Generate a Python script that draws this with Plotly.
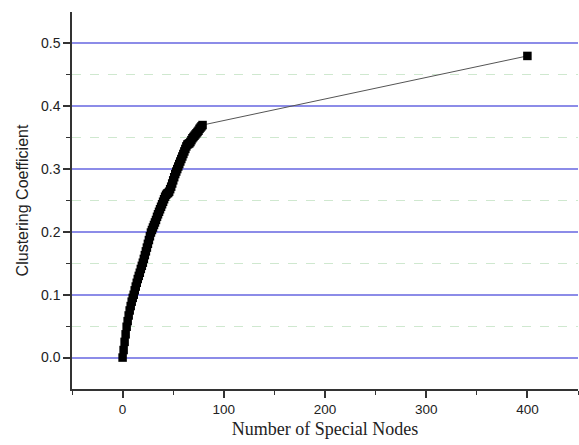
import plotly.graph_objects as go

# Number of special nodes (dense part) and clustering coefficient
nodes = list(range(0, 80)) + [400]
clustering = [
    0.000, 0.012, 0.025, 0.037, 0.049, 0.058, 0.067, 0.075, 0.082, 0.089,
    0.095, 0.100, 0.107, 0.113, 0.119, 0.125, 0.130, 0.135, 0.141, 0.146,
    0.151, 0.157, 0.163, 0.169, 0.175, 0.181, 0.187, 0.193, 0.199, 0.203,
    0.207, 0.211, 0.215, 0.219, 0.224, 0.228, 0.232, 0.236, 0.240, 0.244,
    0.248, 0.252, 0.256, 0.259, 0.261, 0.262, 0.264, 0.268, 0.272, 0.277,
    0.282, 0.287, 0.292, 0.296, 0.300, 0.304, 0.308, 0.312, 0.316, 0.320,
    0.324, 0.328, 0.332, 0.336, 0.339, 0.340, 0.341, 0.343, 0.346, 0.349,
    0.351, 0.353, 0.355, 0.357, 0.359, 0.361, 0.364, 0.366, 0.368, 0.370,
    0.480,
]

x_ticks = [0, 100, 200, 300, 400]
y_ticks = [0.0, 0.1, 0.2, 0.3, 0.4, 0.5]
y_tick_labels = ["0.0", "0.1", "0.2", "0.3", "0.4", "0.5"]

fig = go.Figure()
fig.add_trace(go.Scatter(
    x=nodes, y=clustering, mode="lines+markers",
    line=dict(color="#555555", width=1),
    marker=dict(symbol="square", size=8.5, color="black", line=dict(width=0)),
    showlegend=False,
))

fig.update_layout(
    width=579, height=445,
    margin=dict(l=72, r=1, t=12, b=56),
    paper_bgcolor="white", plot_bgcolor="white",
    font=dict(family="Liberation Sans, Arial, sans-serif", size=13, color="#222222"),
)

fig.update_xaxes(
    range=[-50, 450], tickvals=x_ticks, ticktext=[str(v) for v in x_ticks],
    showgrid=False, zeroline=False, automargin=False,
    showline=True, linecolor="#333333", linewidth=1.5,
    ticks="outside", ticklen=7, tickwidth=1.5, tickcolor="#333333",
    minor=dict(ticks="outside", ticklen=4, tickwidth=1.2, tickcolor="#333333",
               tickvals=[-50, 50, 150, 250, 350, 450], showgrid=False),
    title=dict(text="Number of Special Nodes",
               font=dict(family="Liberation Serif, Times New Roman, serif", size=18, color="#222222"),
               standoff=6),
    tickfont=dict(size=13.5),
)

fig.update_yaxes(
    range=[-0.05, 0.5499], tickvals=y_ticks, ticktext=y_tick_labels,
    showgrid=True, gridcolor="#8c8ce8", gridwidth=1.5, zeroline=False, automargin=False,
    showline=True, linecolor="#333333", linewidth=1.5,
    ticks="outside", ticklen=7, tickwidth=1.5, tickcolor="#333333",
    minor=dict(ticks="outside", ticklen=4, tickwidth=1.2, tickcolor="#333333",
               tickvals=[0.05, 0.15, 0.25, 0.35, 0.45],
               showgrid=True, gridcolor="#cfe8cf", gridwidth=1, griddash="dash"),
    title=dict(text="Clustering Coefficient",
               font=dict(family="Liberation Sans, Arial, sans-serif", size=16, color="#222222"),
               standoff=8),
    tickfont=dict(size=14),
)

fig.write_html("out.html",
               config={"displayModeBar": False},
               post_script="document.body.style.margin='0';document.body.style.overflow='hidden';")
